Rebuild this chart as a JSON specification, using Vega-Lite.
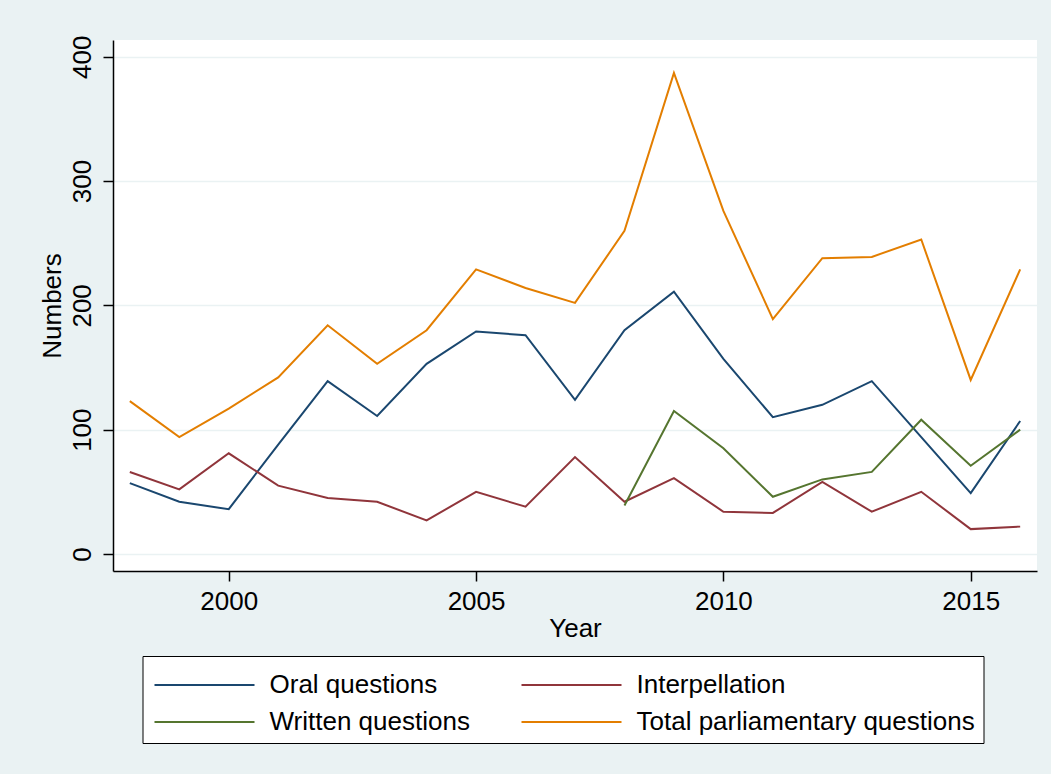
{
  "$schema": "https://vega.github.io/schema/vega-lite/v6.json",
  "width": 924,
  "height": 531,
  "autosize": {"type": "none"},
  "padding": {"left": 113, "top": 40, "right": 14, "bottom": 203},
  "background": "#EAF2F3",
  "data": {
    "values": [
      {"year": 1998, "series": "Oral questions", "value": 57},
      {"year": 1999, "series": "Oral questions", "value": 42},
      {"year": 2000, "series": "Oral questions", "value": 36},
      {"year": 2001, "series": "Oral questions", "value": 88},
      {"year": 2002, "series": "Oral questions", "value": 139},
      {"year": 2003, "series": "Oral questions", "value": 111},
      {"year": 2004, "series": "Oral questions", "value": 153},
      {"year": 2005, "series": "Oral questions", "value": 179},
      {"year": 2006, "series": "Oral questions", "value": 176},
      {"year": 2007, "series": "Oral questions", "value": 124},
      {"year": 2008, "series": "Oral questions", "value": 180},
      {"year": 2009, "series": "Oral questions", "value": 211},
      {"year": 2010, "series": "Oral questions", "value": 157},
      {"year": 2011, "series": "Oral questions", "value": 110},
      {"year": 2012, "series": "Oral questions", "value": 120},
      {"year": 2013, "series": "Oral questions", "value": 139},
      {"year": 2014, "series": "Oral questions", "value": 94},
      {"year": 2015, "series": "Oral questions", "value": 49},
      {"year": 2016, "series": "Oral questions", "value": 107},
      {"year": 1998, "series": "Interpellation", "value": 66},
      {"year": 1999, "series": "Interpellation", "value": 52},
      {"year": 2000, "series": "Interpellation", "value": 81},
      {"year": 2001, "series": "Interpellation", "value": 55},
      {"year": 2002, "series": "Interpellation", "value": 45},
      {"year": 2003, "series": "Interpellation", "value": 42},
      {"year": 2004, "series": "Interpellation", "value": 27},
      {"year": 2005, "series": "Interpellation", "value": 50},
      {"year": 2006, "series": "Interpellation", "value": 38},
      {"year": 2007, "series": "Interpellation", "value": 78},
      {"year": 2008, "series": "Interpellation", "value": 42},
      {"year": 2009, "series": "Interpellation", "value": 61},
      {"year": 2010, "series": "Interpellation", "value": 34},
      {"year": 2011, "series": "Interpellation", "value": 33},
      {"year": 2012, "series": "Interpellation", "value": 58},
      {"year": 2013, "series": "Interpellation", "value": 34},
      {"year": 2014, "series": "Interpellation", "value": 50},
      {"year": 2015, "series": "Interpellation", "value": 20},
      {"year": 2016, "series": "Interpellation", "value": 22},
      {"year": 2008, "series": "Written questions", "value": 39},
      {"year": 2009, "series": "Written questions", "value": 115},
      {"year": 2010, "series": "Written questions", "value": 85},
      {"year": 2011, "series": "Written questions", "value": 46},
      {"year": 2012, "series": "Written questions", "value": 60},
      {"year": 2013, "series": "Written questions", "value": 66},
      {"year": 2014, "series": "Written questions", "value": 108},
      {"year": 2015, "series": "Written questions", "value": 71},
      {"year": 2016, "series": "Written questions", "value": 100},
      {"year": 1998, "series": "Total parliamentary questions", "value": 123},
      {"year": 1999, "series": "Total parliamentary questions", "value": 94},
      {"year": 2000, "series": "Total parliamentary questions", "value": 117},
      {"year": 2001, "series": "Total parliamentary questions", "value": 142},
      {"year": 2002, "series": "Total parliamentary questions", "value": 184},
      {"year": 2003, "series": "Total parliamentary questions", "value": 153},
      {"year": 2004, "series": "Total parliamentary questions", "value": 180},
      {"year": 2005, "series": "Total parliamentary questions", "value": 229},
      {"year": 2006, "series": "Total parliamentary questions", "value": 214},
      {"year": 2007, "series": "Total parliamentary questions", "value": 202},
      {"year": 2008, "series": "Total parliamentary questions", "value": 260},
      {"year": 2009, "series": "Total parliamentary questions", "value": 387},
      {"year": 2010, "series": "Total parliamentary questions", "value": 276},
      {"year": 2011, "series": "Total parliamentary questions", "value": 189},
      {"year": 2012, "series": "Total parliamentary questions", "value": 238},
      {"year": 2013, "series": "Total parliamentary questions", "value": 239},
      {"year": 2014, "series": "Total parliamentary questions", "value": 253},
      {"year": 2015, "series": "Total parliamentary questions", "value": 140},
      {"year": 2016, "series": "Total parliamentary questions", "value": 229}
    ]
  },
  "mark": {"type": "line", "strokeWidth": 2, "clip": true},
  "encoding": {
    "x": {
      "field": "year",
      "type": "quantitative",
      "scale": {"domain": [1997.66, 2016.34], "nice": false, "zero": false},
      "axis": {
        "title": "Year",
        "values": [2000, 2005, 2010, 2015],
        "format": "d",
        "grid": false,
        "labelFontSize": 26,
        "titleFontSize": 26,
        "tickSize": 10,
        "labelPadding": 7,
        "titlePadding": 1,
        "labelFlush": false
      }
    },
    "y": {
      "field": "value",
      "type": "quantitative",
      "scale": {"domain": [-13.7, 413.5], "nice": false, "zero": false},
      "axis": {
        "title": "Numbers",
        "values": [0, 100, 200, 300, 400],
        "grid": true,
        "labelAngle": -90,
        "labelFontSize": 26,
        "titleFontSize": 26,
        "tickSize": 10,
        "labelPadding": 8,
        "titlePadding": 4,
        "labelFlush": false
      }
    },
    "color": {
      "field": "series",
      "type": "nominal",
      "scale": {
        "domain": ["Oral questions", "Interpellation", "Written questions", "Total parliamentary questions"],
        "range": ["#1a476f", "#90353b", "#55752f", "#e37e00"]
      },
      "legend": {
        "title": null,
        "orient": "none",
        "legendX": 29.5,
        "legendY": 616,
        "direction": "horizontal",
        "columns": 2,
        "symbolType": "M-2.5,0H2.5",
        "symbolSize": 1600,
        "symbolStrokeWidth": 2,
        "symbolOffset": 33,
        "labelFontSize": 26,
        "labelOffset": 44,
        "labelLimit": 800,
        "rowPadding": 3,
        "columnPadding": 47,
        "padding": 8,
        "strokeColor": "#000000",
        "fillColor": "#ffffff",
        "labelColor": "#000000"
      }
    }
  },
  "config": {
    "font": "Liberation Sans",
    "view": {"fill": "#ffffff", "stroke": null},
    "axis": {
      "domainColor": "#000000",
      "domainWidth": 1.5,
      "tickColor": "#000000",
      "tickWidth": 1.5,
      "gridColor": "#EAF2F3",
      "gridWidth": 1.5,
      "labelColor": "#000000",
      "titleColor": "#000000",
      "titleFontWeight": "normal"
    }
  }
}
